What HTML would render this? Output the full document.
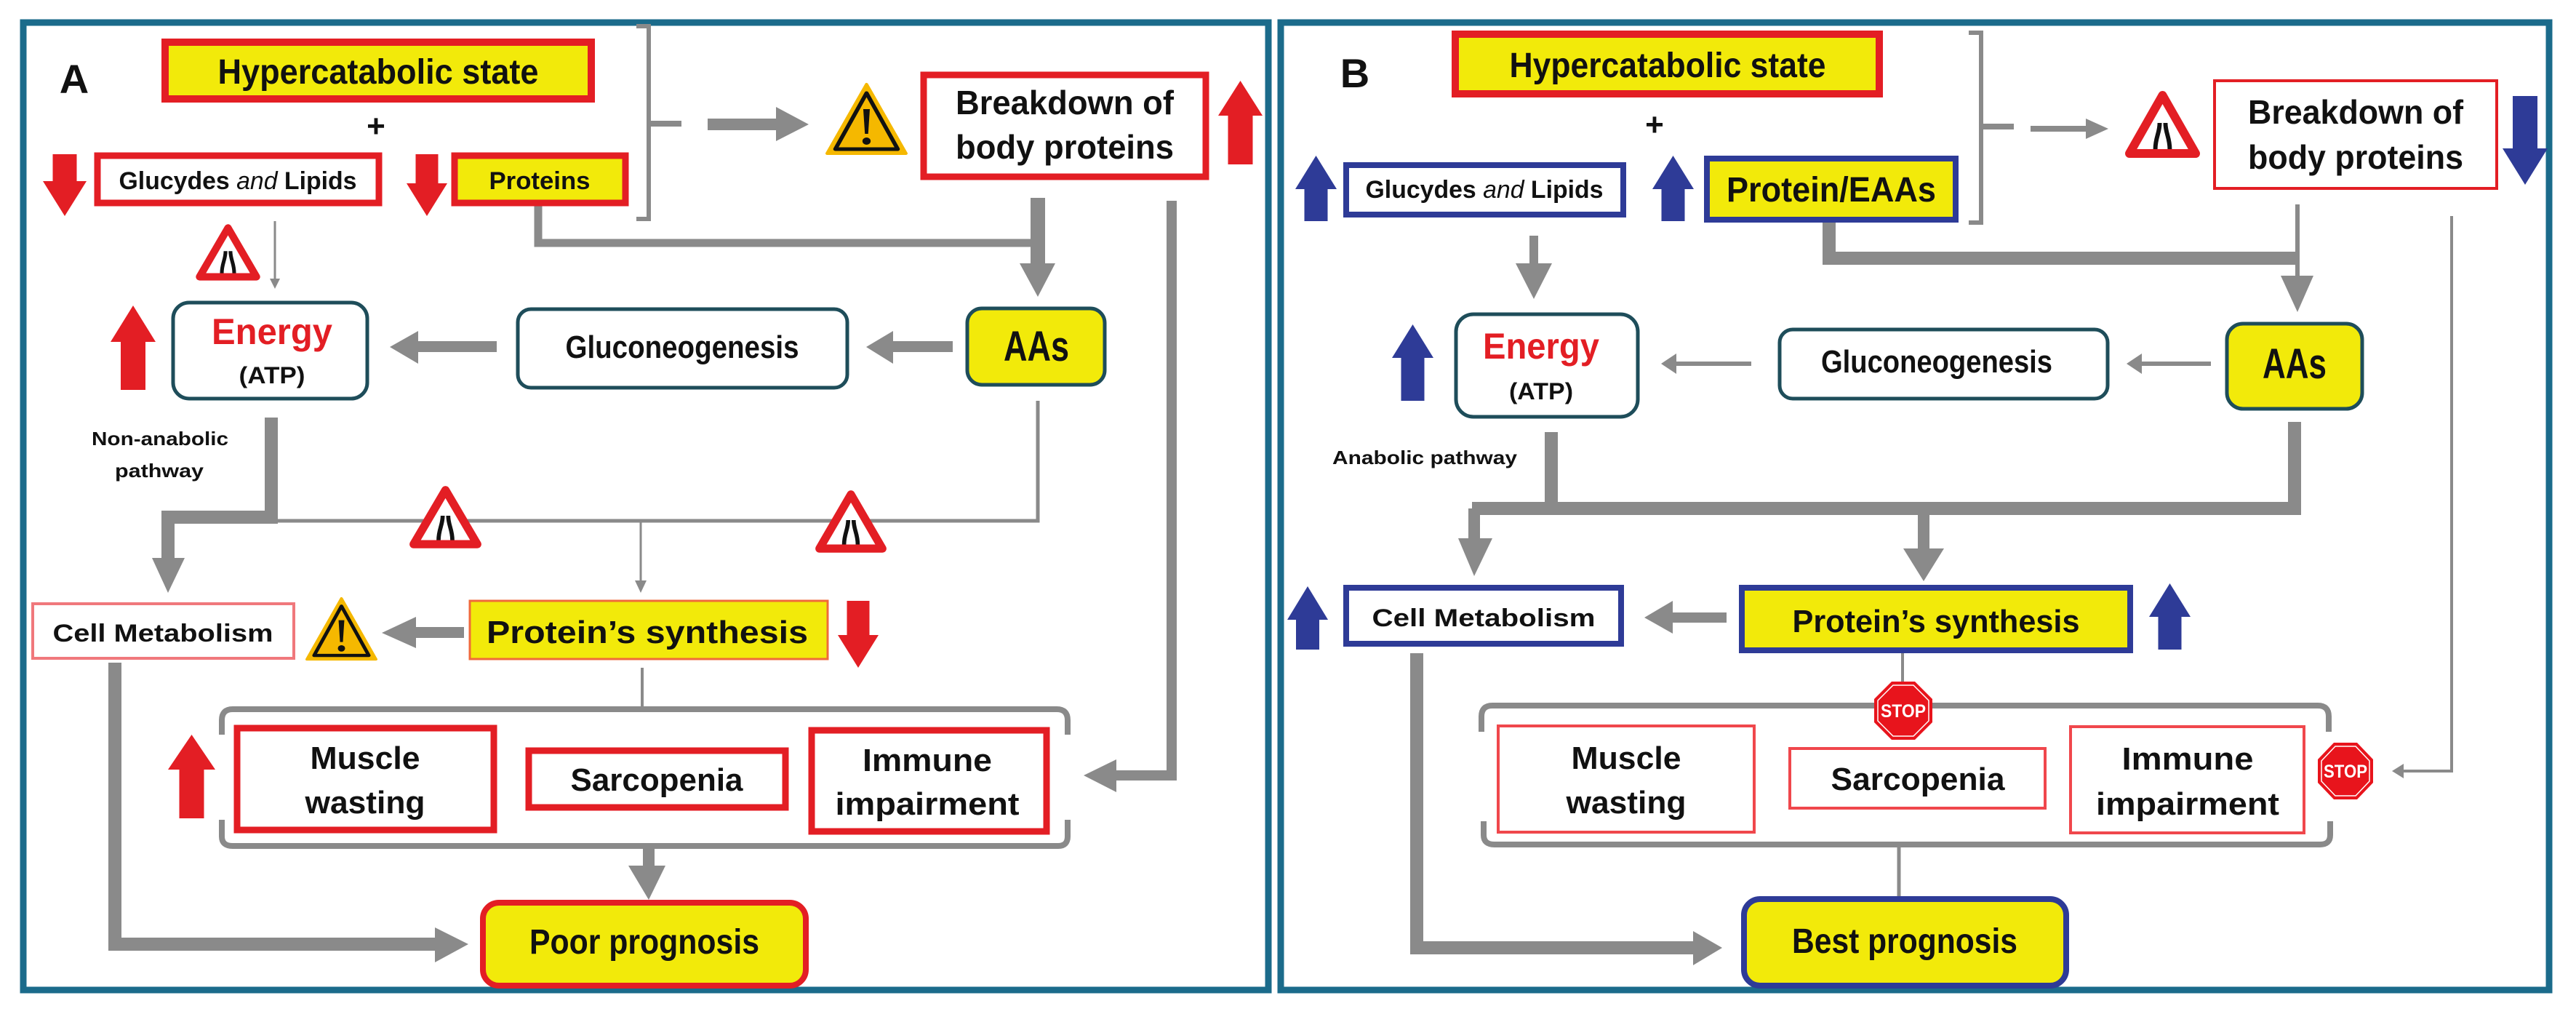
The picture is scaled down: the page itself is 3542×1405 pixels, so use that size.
<!DOCTYPE html>
<html><head><meta charset="utf-8"><style>
html,body{margin:0;padding:0;background:#fff;}
svg{display:block;}
text{font-family:"Liberation Sans Narrow","Liberation Sans",sans-serif;font-weight:bold;fill:#111;}
</style></head><body>
<svg width="3542" height="1405" viewBox="0 0 3542 1405" xmlns="http://www.w3.org/2000/svg">
<rect x="0" y="0" width="3542" height="1405" fill="#fff"/>
<!-- panel borders -->
<rect x="32" y="31" width="1712" height="1330" fill="none" stroke="#1b6b8b" stroke-width="9"/>
<rect x="1761" y="31" width="1744" height="1330" fill="none" stroke="#1b6b8b" stroke-width="9"/>

<!-- ================= PANEL A ================= -->
<g stroke="#8a8a8a" fill="none">
  <!-- bracket -->
  <path d="M875,36 L892,36 L892,301 L875,301" stroke-width="6"/>
  <path d="M892,170 L937,170" stroke-width="8"/>
  <polyline points="740,283 740,334 1427,334" stroke-width="11"/>
  <polyline points="1611,276 1611,1066 1530,1066" stroke-width="14"/>
  <line x1="378" y1="304" x2="378" y2="386" stroke-width="3"/>
  <polyline points="373,574 373,711 231,711 231,770" stroke-width="18"/>
  <polyline points="1427,551 1427,716 373,716" stroke-width="5"/>
  <line x1="881" y1="716" x2="881" y2="800" stroke-width="3"/>
  <line x1="883" y1="918" x2="883" y2="975" stroke-width="4"/>
  <path d="M305,1010 L305,990 Q305,975 320,975 L1453,975 Q1468,975 1468,990 L1468,1010" stroke-width="8"/>
  <path d="M305,1127 L305,1150 Q305,1163 320,1163 L1455,1163 Q1468,1163 1468,1150 L1468,1127" stroke-width="8"/>
  <line x1="892" y1="1163" x2="892" y2="1195" stroke-width="16"/>
  <polyline points="158,911 158,1298 600,1298" stroke-width="18"/>
</g>
<g fill="#8a8a8a">
  <polygon points="973,163 1067,163 1067,147 1112,171 1067,194 1067,179 973,179"/>
  <polygon points="1417,272 1437,272 1437,362 1451,362 1427,408 1402,362 1417,362"/>
  <polygon points="1535,1044 1490,1066 1535,1089"/>
  <polygon points="371,383 385,383 378,397"/>
  <polygon points="683,469 575,469 575,455 536,477 575,500 575,484 683,484"/>
  <polygon points="1310,469 1228,469 1228,455 1191,477 1228,500 1228,484 1310,484"/>
  <polygon points="209,767 254,767 231,815"/>
  <polygon points="873,798 889,798 881,815"/>
  <polygon points="638,862 572,862 572,848 525,870 572,891 572,877 638,877"/>
  <polygon points="864,1190 915,1190 892,1237"/>
  <polygon points="598,1275 644,1298 598,1323"/>
</g>

<!-- red arrows A -->
<g fill="#e31e24">
  <polygon points="89,297 119,249 105.5,249 105.5,212 72.5,212 72.5,249 59,249"/>
  <polygon points="587,297 615,252 602.5,252 602.5,212 571.5,212 571.5,252 559,252"/>
  <polygon points="1705.5,111 1736,159 1722.5,159 1722.5,226 1688.5,226 1688.5,159 1675,159"/>
  <polygon points="183,420 214,470 200,470 200,536 166,536 166,470 152,470"/>
  <polygon points="1180,918 1208,873 1195.5,873 1195.5,826 1164.5,826 1164.5,873 1152,873"/>
  <polygon points="263.5,1010 296,1058 280.5,1058 280.5,1125 246.5,1125 246.5,1058 231,1058"/>
</g>

<!-- boxes A -->
<rect x="227" y="58" width="586" height="78" fill="#f2ea0a" stroke="#e31e24" stroke-width="10"/>
<rect x="134" y="214" width="387" height="65" fill="#fff" stroke="#e31e24" stroke-width="9"/>
<rect x="625" y="214" width="235" height="65" fill="#f2ea0a" stroke="#e31e24" stroke-width="9"/>
<rect x="1270" y="103" width="388" height="140" fill="#fff" stroke="#e31e24" stroke-width="9"/>
<rect x="238" y="416" width="267" height="132" rx="22" fill="#fff" stroke="#1e4d5a" stroke-width="5"/>
<rect x="712" y="425" width="453" height="108" rx="18" fill="#fff" stroke="#1e4d5a" stroke-width="5"/>
<rect x="1330" y="424" width="189" height="105" rx="20" fill="#f2ea0a" stroke="#1e4d5a" stroke-width="5"/>
<rect x="45" y="830" width="359" height="75" fill="#fff" stroke="#f0787c" stroke-width="4"/>
<rect x="646" y="826" width="492" height="80" fill="#f2ea0a" stroke="#f06a3a" stroke-width="3"/>
<rect x="326" y="1001" width="353" height="140" fill="#fff" stroke="#e31e24" stroke-width="9"/>
<rect x="727" y="1032" width="353" height="78" fill="#fff" stroke="#e31e24" stroke-width="9"/>
<rect x="1116" y="1004" width="323" height="139" fill="#fff" stroke="#e31e24" stroke-width="9"/>
<rect x="664" y="1241" width="444" height="114" rx="22" fill="#f2ea0a" stroke="#e31e24" stroke-width="8"/>

<!-- road narrows signs A -->
<g transform="translate(271,310) scale(0.85,0.84)">
  <polygon points="50,4 96,84 4,84" fill="#fff" stroke="#e31e24" stroke-width="12" stroke-linejoin="round"/>
  <path d="M40,78 C40,62 46,56 46,42 M60,78 C60,62 54,56 54,42" stroke="#111" stroke-width="6" fill="none"/>
</g>
<g transform="translate(565,670) scale(0.95,0.93)">
  <polygon points="50,4 96,84 4,84" fill="#fff" stroke="#e31e24" stroke-width="12" stroke-linejoin="round"/>
  <path d="M40,78 C40,62 46,56 46,42 M60,78 C60,62 54,56 54,42" stroke="#111" stroke-width="6" fill="none"/>
</g>
<g transform="translate(1123,676) scale(0.94,0.93)">
  <polygon points="50,4 96,84 4,84" fill="#fff" stroke="#e31e24" stroke-width="12" stroke-linejoin="round"/>
  <path d="M40,78 C40,62 46,56 46,42 M60,78 C60,62 54,56 54,42" stroke="#111" stroke-width="6" fill="none"/>
</g>
<!-- warning signs A -->
<g transform="translate(1135,114) scale(1.13,1.0)">
  <polygon points="50,2 98,97 2,97" fill="#f5b800" stroke="#f5b800" stroke-width="4" stroke-linejoin="round"/>
  <polygon points="50,14 88,91 12,91" fill="none" stroke="#111" stroke-width="5" stroke-linejoin="round"/>
  <polygon points="46,36 54,36 52,70 48,70" fill="#111"/>
  <circle cx="50" cy="80" r="5" fill="#111"/>
</g>
<g transform="translate(420,821) scale(0.99,0.88)">
  <polygon points="50,2 98,97 2,97" fill="#f5b800" stroke="#f5b800" stroke-width="4" stroke-linejoin="round"/>
  <polygon points="50,14 88,91 12,91" fill="none" stroke="#111" stroke-width="5" stroke-linejoin="round"/>
  <polygon points="46,36 54,36 52,70 48,70" fill="#111"/>
  <circle cx="50" cy="80" r="5" fill="#111"/>
</g>

<!-- text A -->
<text x="102" y="128" font-size="56" text-anchor="middle">A</text>
<text x="520" y="115" font-size="48" text-anchor="middle" textLength="441" lengthAdjust="spacingAndGlyphs">Hypercatabolic state</text>
<text x="517" y="188" font-size="44" text-anchor="middle">+</text>
<text x="327" y="260" font-size="34" text-anchor="middle" textLength="327" lengthAdjust="spacingAndGlyphs">Glucydes <tspan font-style="italic" font-weight="normal">and</tspan> Lipids</text>
<text x="742" y="260" font-size="34" text-anchor="middle" textLength="139" lengthAdjust="spacingAndGlyphs">Proteins</text>
<text x="1464" y="157" font-size="46" text-anchor="middle" textLength="300" lengthAdjust="spacingAndGlyphs">Breakdown of</text>
<text x="1464" y="218" font-size="46" text-anchor="middle" textLength="300" lengthAdjust="spacingAndGlyphs">body proteins</text>
<text x="374" y="473" font-size="50" text-anchor="middle" textLength="166" lengthAdjust="spacingAndGlyphs" style="fill:#e31e24">Energy</text>
<text x="374" y="527" font-size="32" text-anchor="middle" textLength="91" lengthAdjust="spacingAndGlyphs">(ATP)</text>
<text x="938" y="492" font-size="44" text-anchor="middle" textLength="321" lengthAdjust="spacingAndGlyphs">Gluconeogenesis</text>
<text x="1425" y="496" font-size="58" text-anchor="middle" textLength="90" lengthAdjust="spacingAndGlyphs">AAs</text>
<text x="220" y="612" font-size="26" text-anchor="middle" textLength="188" lengthAdjust="spacingAndGlyphs">Non-anabolic</text>
<text x="219" y="656" font-size="26" text-anchor="middle" textLength="122" lengthAdjust="spacingAndGlyphs">pathway</text>
<text x="224" y="882" font-size="34" text-anchor="middle" textLength="303" lengthAdjust="spacingAndGlyphs">Cell Metabolism</text>
<text x="890" y="884" font-size="44" text-anchor="middle" textLength="442" lengthAdjust="spacingAndGlyphs">Protein’s synthesis</text>
<text x="502" y="1057" font-size="44" text-anchor="middle" textLength="151" lengthAdjust="spacingAndGlyphs">Muscle</text>
<text x="502" y="1118" font-size="44" text-anchor="middle" textLength="165" lengthAdjust="spacingAndGlyphs">wasting</text>
<text x="903" y="1087" font-size="44" text-anchor="middle" textLength="237" lengthAdjust="spacingAndGlyphs">Sarcopenia</text>
<text x="1275" y="1060" font-size="44" text-anchor="middle" textLength="178" lengthAdjust="spacingAndGlyphs">Immune</text>
<text x="1275" y="1120" font-size="44" text-anchor="middle" textLength="253" lengthAdjust="spacingAndGlyphs">impairment</text>
<text x="886" y="1311" font-size="48" text-anchor="middle" textLength="316" lengthAdjust="spacingAndGlyphs">Poor prognosis</text>

<!-- ================= PANEL B ================= -->
<g stroke="#8a8a8a" fill="none">
  <path d="M2707,45 L2724,45 L2724,306 L2707,306" stroke-width="6"/>
  <path d="M2724,174 L2769,174" stroke-width="8"/>
  <line x1="2792" y1="177" x2="2872" y2="177" stroke-width="8"/>
  <line x1="3159" y1="281" x2="3159" y2="385" stroke-width="6"/>
  <polyline points="2515,306 2515,355 3159,355" stroke-width="18"/>
  <polyline points="3371,297 3371,1060 3300,1060" stroke-width="4"/>
  <line x1="2109" y1="324" x2="2109" y2="365" stroke-width="12"/>
  <line x1="2408" y1="500" x2="2300" y2="500" stroke-width="6"/>
  <line x1="3040" y1="500" x2="2940" y2="500" stroke-width="6"/>
  <line x1="2133" y1="594" x2="2133" y2="700" stroke-width="18"/>
  <line x1="3155" y1="580" x2="3155" y2="700" stroke-width="18"/>
  <line x1="2024" y1="699" x2="3164" y2="699" stroke-width="18"/>
  <line x1="2027" y1="699" x2="2027" y2="745" stroke-width="16"/>
  <line x1="2645" y1="699" x2="2645" y2="758" stroke-width="16"/>
  <line x1="2616" y1="898" x2="2616" y2="940" stroke-width="4"/>
  <path d="M2037,1006 L2037,985 Q2037,970 2052,970 L3187,970 Q3202,970 3202,985 L3202,1006" stroke-width="8"/>
  <path d="M2040,1129 L2040,1148 Q2040,1161 2055,1161 L3190,1161 Q3204,1161 3204,1148 L3204,1129" stroke-width="8"/>
  <line x1="2611" y1="1161" x2="2611" y2="1234" stroke-width="5"/>
  <polyline points="1948,898 1948,1303 2330,1303" stroke-width="18"/>
</g>
<g fill="#8a8a8a">
  <polygon points="2868,163 2899,177 2868,191"/>
  <polygon points="3136,379 3181,379 3159,429"/>
  <polygon points="3305,1050 3289,1060 3305,1070"/>
  <polygon points="2084,362 2134,362 2109,411"/>
  <polygon points="2305,486 2284,500 2305,514"/>
  <polygon points="2945,486 2924,500 2945,514"/>
  <polygon points="2005,740 2052,740 2027,792"/>
  <polygon points="2617,754 2673,754 2645,799"/>
  <polygon points="2374,842 2300,842 2300,826 2261,849 2300,871 2300,856 2374,856"/>
  <polygon points="2328,1280 2368,1303 2328,1327"/>
</g>

<!-- blue arrows -->
<g fill="#2e3b97">
  <polygon points="1809.5,214 1838,260 1825.5,260 1825.5,304 1793.5,304 1793.5,260 1781,260"/>
  <polygon points="2300.5,214 2329,260 2316.5,260 2316.5,304 2284.5,304 2284.5,260 2272,260"/>
  <polygon points="3472,254 3503,204 3489,204 3489,132 3455,132 3455,204 3441,204"/>
  <polygon points="1942.5,446 1971,492 1958.5,492 1958.5,551 1926.5,551 1926.5,492 1914,492"/>
  <polygon points="1798,806 1826,852 1814,852 1814,893 1782,893 1782,852 1770,852"/>
  <polygon points="2983.5,802 3012,848 2999.5,848 2999.5,893 2967.5,893 2967.5,848 2955,848"/>
</g>

<!-- boxes B -->
<rect x="2001" y="47" width="583" height="82" fill="#f2ea0a" stroke="#e31e24" stroke-width="10"/>
<rect x="1851" y="227" width="381" height="68" fill="#fff" stroke="#2e3b97" stroke-width="8"/>
<rect x="2347" y="218" width="342" height="84" fill="#f2ea0a" stroke="#2e3b97" stroke-width="8"/>
<rect x="3045" y="111" width="388" height="148" fill="#fff" stroke="#e31e24" stroke-width="4"/>
<rect x="2002" y="432" width="250" height="141" rx="24" fill="#fff" stroke="#1e4d5a" stroke-width="5"/>
<rect x="2447" y="453" width="451" height="95" rx="18" fill="#fff" stroke="#1e4d5a" stroke-width="5"/>
<rect x="3062" y="445" width="186" height="117" rx="22" fill="#f2ea0a" stroke="#1e4d5a" stroke-width="5"/>
<rect x="1851" y="808" width="378" height="77" fill="#fff" stroke="#2e3b97" stroke-width="8"/>
<rect x="2395" y="808" width="534" height="86" fill="#f2ea0a" stroke="#2e3b97" stroke-width="8"/>
<rect x="2060" y="998" width="352" height="146" fill="#fff" stroke="#f0474c" stroke-width="4"/>
<rect x="2461" y="1029" width="351" height="82" fill="#fff" stroke="#f0474c" stroke-width="4"/>
<rect x="2847" y="999" width="321" height="146" fill="#fff" stroke="#f0474c" stroke-width="4"/>
<rect x="2398" y="1236" width="443" height="119" rx="22" fill="#f2ea0a" stroke="#2e3b97" stroke-width="8"/>

<!-- road narrows B -->
<g transform="translate(2924,127) scale(0.99,1.0)">
  <polygon points="50,4 96,84 4,84" fill="#fff" stroke="#e31e24" stroke-width="12" stroke-linejoin="round"/>
  <path d="M40,78 C40,62 46,56 46,42 M60,78 C60,62 54,56 54,42" stroke="#111" stroke-width="6" fill="none"/>
</g>
<!-- STOP signs -->
<g transform="translate(2617,977)">
  <polygon points="-16,-40 16,-40 40,-16 40,16 16,40 -16,40 -40,16 -40,-16" fill="#e8141c"/>
  <polygon points="-14,-35 14,-35 35,-14 35,14 14,35 -14,35 -35,14 -35,-14" fill="none" stroke="#fff" stroke-width="1.5"/>
  <text x="0" y="9" font-size="25" text-anchor="middle" textLength="62" lengthAdjust="spacingAndGlyphs" style="fill:#fff">STOP</text>
</g>
<g transform="translate(3225,1060)">
  <polygon points="-16,-39 16,-39 38,-16 38,16 16,39 -16,39 -38,16 -38,-16" fill="#e8141c"/>
  <polygon points="-14,-34 14,-34 33,-14 33,14 14,34 -14,34 -33,14 -33,-14" fill="none" stroke="#fff" stroke-width="1.5"/>
  <text x="0" y="9" font-size="25" text-anchor="middle" textLength="60" lengthAdjust="spacingAndGlyphs" style="fill:#fff">STOP</text>
</g>

<!-- text B -->
<text x="1863" y="120" font-size="56" text-anchor="middle">B</text>
<text x="2293" y="106" font-size="48" text-anchor="middle" textLength="435" lengthAdjust="spacingAndGlyphs">Hypercatabolic state</text>
<text x="2275" y="186" font-size="44" text-anchor="middle">+</text>
<text x="2041" y="272" font-size="34" text-anchor="middle" textLength="327" lengthAdjust="spacingAndGlyphs">Glucydes <tspan font-style="italic" font-weight="normal">and</tspan> Lipids</text>
<text x="2518" y="277" font-size="48" text-anchor="middle" textLength="288" lengthAdjust="spacingAndGlyphs">Protein/EAAs</text>
<text x="3239" y="170" font-size="46" text-anchor="middle" textLength="296" lengthAdjust="spacingAndGlyphs">Breakdown of</text>
<text x="3239" y="232" font-size="46" text-anchor="middle" textLength="296" lengthAdjust="spacingAndGlyphs">body proteins</text>
<text x="2119" y="493" font-size="50" text-anchor="middle" textLength="160" lengthAdjust="spacingAndGlyphs" style="fill:#e31e24">Energy</text>
<text x="2119" y="549" font-size="32" text-anchor="middle" textLength="88" lengthAdjust="spacingAndGlyphs">(ATP)</text>
<text x="2663" y="512" font-size="44" text-anchor="middle" textLength="318" lengthAdjust="spacingAndGlyphs">Gluconeogenesis</text>
<text x="3155" y="520" font-size="58" text-anchor="middle" textLength="88" lengthAdjust="spacingAndGlyphs">AAs</text>
<text x="1959" y="638" font-size="26" text-anchor="middle" textLength="254" lengthAdjust="spacingAndGlyphs">Anabolic pathway</text>
<text x="2040" y="861" font-size="34" text-anchor="middle" textLength="307" lengthAdjust="spacingAndGlyphs">Cell Metabolism</text>
<text x="2662" y="869" font-size="44" text-anchor="middle" textLength="395" lengthAdjust="spacingAndGlyphs">Protein’s synthesis</text>
<text x="2236" y="1057" font-size="44" text-anchor="middle" textLength="151" lengthAdjust="spacingAndGlyphs">Muscle</text>
<text x="2236" y="1118" font-size="44" text-anchor="middle" textLength="165" lengthAdjust="spacingAndGlyphs">wasting</text>
<text x="2637" y="1086" font-size="44" text-anchor="middle" textLength="239" lengthAdjust="spacingAndGlyphs">Sarcopenia</text>
<text x="3008" y="1058" font-size="44" text-anchor="middle" textLength="181" lengthAdjust="spacingAndGlyphs">Immune</text>
<text x="3008" y="1120" font-size="44" text-anchor="middle" textLength="252" lengthAdjust="spacingAndGlyphs">impairment</text>
<text x="2619" y="1310" font-size="48" text-anchor="middle" textLength="310" lengthAdjust="spacingAndGlyphs">Best prognosis</text>
</svg>
</body></html>
